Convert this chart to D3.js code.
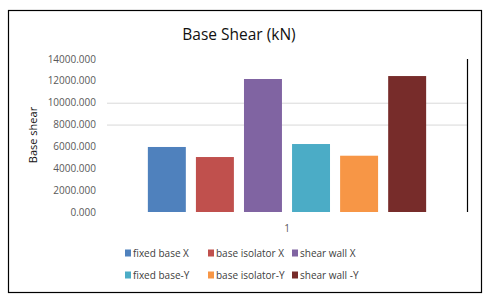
<!DOCTYPE html>
<html>
<head>
<meta charset="utf-8">
<script src="https://cdn.jsdelivr.net/npm/d3@7"></script>
<style>
  body { margin: 0; background: #fff; }
  svg { display: block; font-family: "Open Sans", "Noto Sans", sans-serif; }
</style>
</head>
<body>
<svg id="chart"></svg>
<script>
// chart data
const categories = ["1"];
const seriesNames = ["fixed base X", "base isolator X", "shear wall X",
  "fixed base-Y", "base isolator-Y", "shear wall -Y"];
const seriesValues = [5950, 5030, 12170, 6220, 5150, 12440];
const seriesColors = ["#4F81BD", "#C0504D", "#8064A2", "#4BACC6", "#F79646", "#772C2A"];
const yTicks = [0, 2000, 4000, 6000, 8000, 10000, 12000, 14000];
const gridTicks = [8000, 10000]; // only these gridlines show up

const width = 487, height = 294;
const margin = {top: 59, right: 20, bottom: 82, left: 107};

const svg = d3.select("#chart")
  .attr("width", width)
  .attr("height", height);

// outer frame
svg.append("rect")
  .attr("x", 8.5).attr("y", 10.5)
  .attr("width", 473).attr("height", 282)
  .attr("fill", "#fff")
  .attr("stroke", "#000")
  .attr("stroke-width", 1.2);

const x0 = d3.scaleBand()
  .domain(categories)
  .range([margin.left, width - margin.right]);

const x1 = d3.scaleBand()
  .domain(seriesNames)
  .range([0, x0.bandwidth()])
  .paddingInner(0.21)
  .paddingOuter(0.85);

const y = d3.scaleLinear()
  .domain([0, 14000])
  .range([height - margin.bottom, margin.top]);

// gridlines
svg.append("g")
  .selectAll("line")
  .data(gridTicks)
  .join("line")
  .attr("x1", x0.range()[0])
  .attr("x2", x0.range()[1])
  .attr("y1", d => y(d) + 0.5)
  .attr("y2", d => y(d) + 0.5)
  .attr("stroke", "#d9d9d9");

// right vertical line
svg.append("line")
  .attr("x1", x0.range()[1] + 0.5)
  .attr("x2", x0.range()[1] + 0.5)
  .attr("y1", y(14000))
  .attr("y2", y(0))
  .attr("stroke", "#000")
  .attr("stroke-width", 1.2);

// bars
svg.append("g")
  .selectAll("rect")
  .data(seriesNames.map((s, i) => ({key: s, value: seriesValues[i], color: seriesColors[i]})))
  .join("rect")
  .attr("x", d => x0(categories[0]) + x1(d.key))
  .attr("width", x1.bandwidth())
  .attr("y", d => y(d.value))
  .attr("height", d => y(0) - y(d.value))
  .attr("fill", d => d.color);

// y axis labels
svg.append("g")
  .attr("font-size", 10)
  .attr("fill", "#595959")
  .attr("text-anchor", "end")
  .selectAll("text")
  .data(yTicks)
  .join("text")
  .attr("x", 96)
  .attr("y", d => y(d))
  .attr("dy", "0.35em")
  .text(d3.format(".3f"));

// x category label
svg.append("g")
  .attr("font-size", 10)
  .attr("fill", "#595959")
  .attr("text-anchor", "middle")
  .selectAll("text")
  .data(categories)
  .join("text")
  .attr("x", d => x0(d) + x0.bandwidth() / 2)
  .attr("y", 228)
  .attr("dy", "0.35em")
  .text(d => d);

// title
svg.append("text")
  .attr("x", 239)
  .attr("y", 35)
  .attr("dy", "0.35em")
  .attr("text-anchor", "middle")
  .attr("font-size", 15.5)
  .attr("fill", "#111")
  .text("Base Shear (kN)");

// y axis title
svg.append("text")
  .attr("transform", "translate(33,135) rotate(-90)")
  .attr("dy", "0.35em")
  .attr("text-anchor", "middle")
  .attr("font-size", 11)
  .attr("fill", "#111")
  .text("Base shear");

// legend
const legendX = [125, 208, 292];
const legendY = [253, 275];
svg.append("g")
  .attr("font-size", 10)
  .attr("fill", "#404040")
  .selectAll("g")
  .data(seriesNames)
  .join("g")
  .attr("transform", (d, i) => `translate(${legendX[i % 3]},${legendY[Math.floor(i / 3)]})`)
  .call(g => g.append("rect")
    .attr("x", 0).attr("y", -3.5)
    .attr("width", 6).attr("height", 7)
    .attr("fill", (d, i) => seriesColors[i]))
  .call(g => g.append("text")
    .attr("x", 8)
    .attr("dy", "0.35em")
    .text(d => d));
</script>
</body>
</html>
